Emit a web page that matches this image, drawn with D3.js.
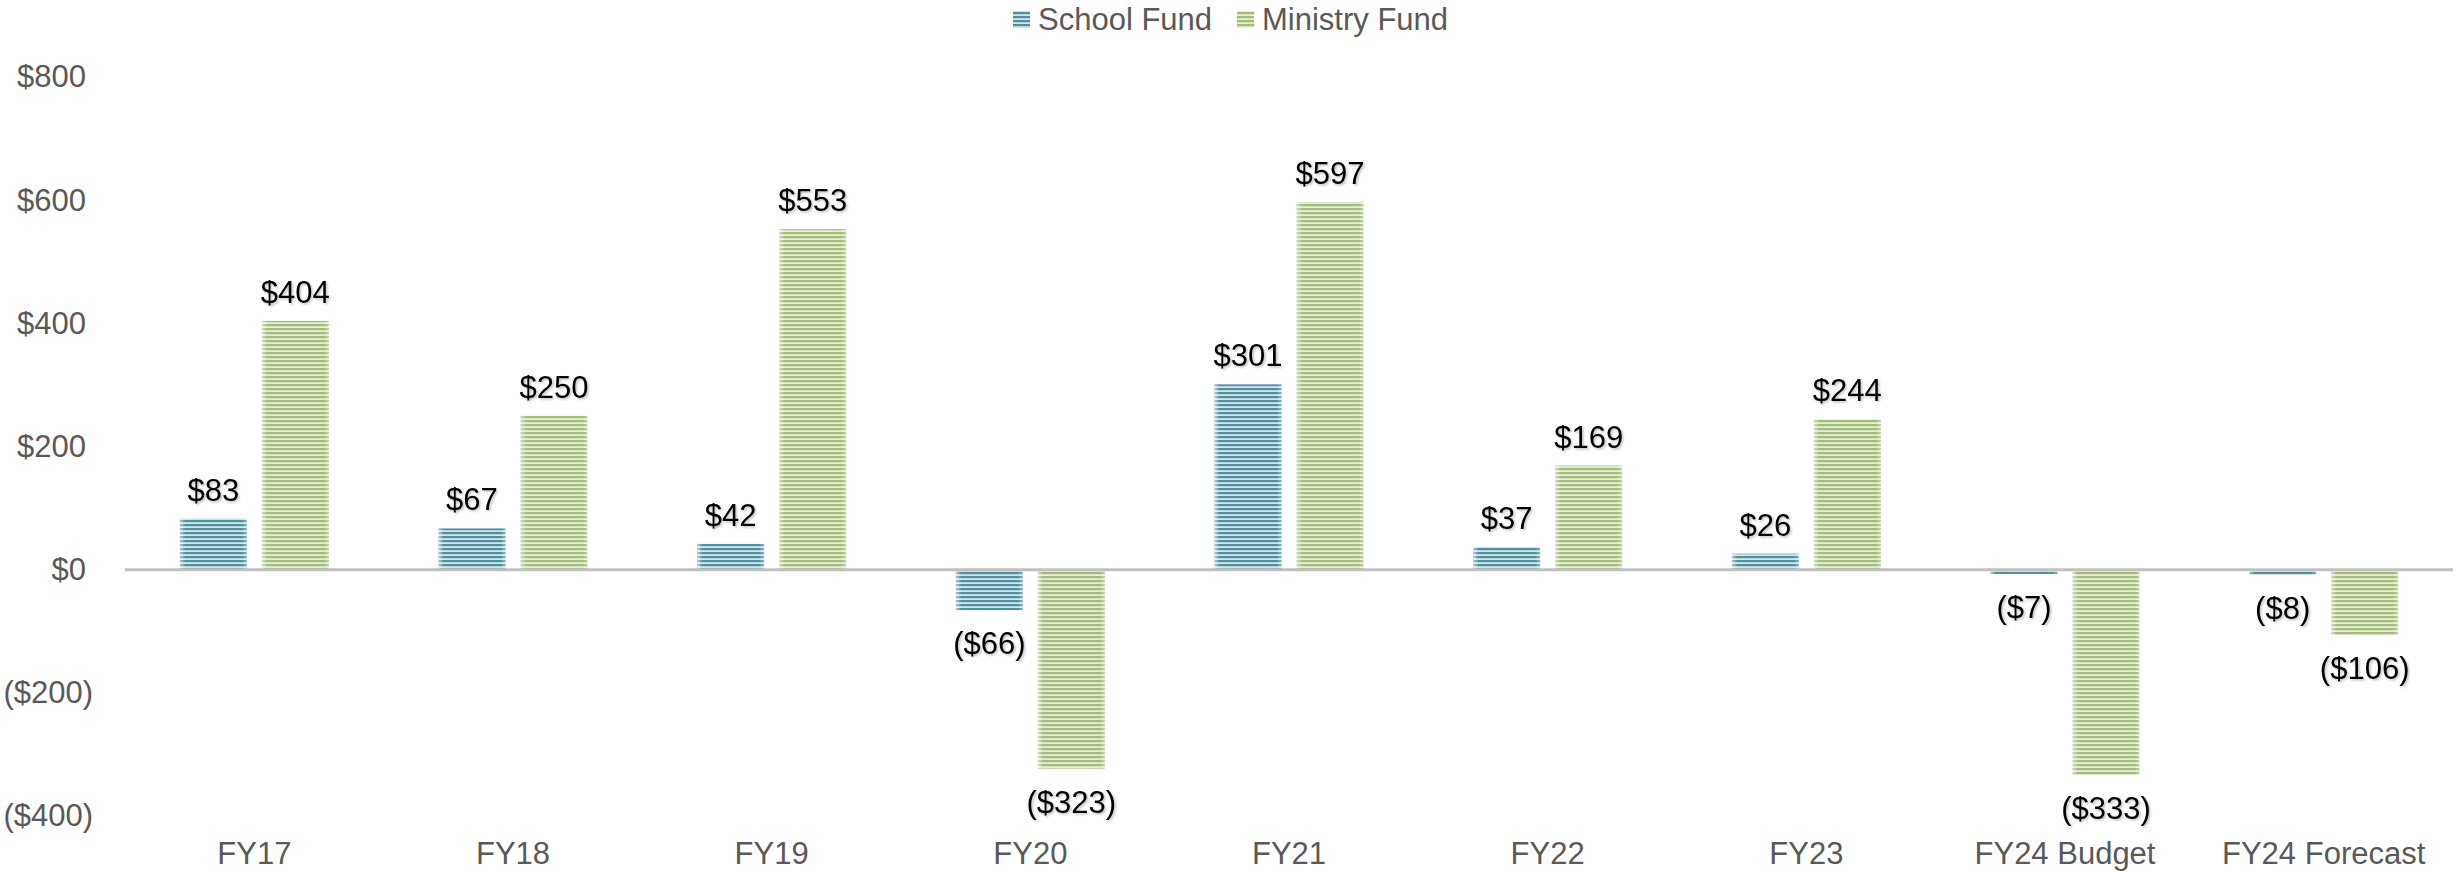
<!DOCTYPE html>
<html>
<head>
<meta charset="utf-8">
<script src="https://cdn.jsdelivr.net/npm/d3@7"></script>
<style>
  body { margin: 0; background: #fff; }
  svg { display: block; font-family: "Liberation Sans", Arial, sans-serif; }
</style>
</head>
<body>
<div id="chart-area"></div>
<script>
(() => {

  const categories = ['FY17', 'FY18', 'FY19', 'FY20', 'FY21', 'FY22', 'FY23', 'FY24 Budget', 'FY24 Forecast'];
  const seriesNames = ['School Fund', 'Ministry Fund'];
  const schoolFund = [83, 67, 42, -66, 301, 37, 26, -7, -8];
  const ministryFund = [404, 250, 553, -323, 597, 169, 244, -333, -106];
  const yTicks = [-400, -200, 0, 200, 400, 600, 800];

  const widthSvg = 2458;
  const heightSvg = 872;
  const plot = { left: 125, right: 2453, top: 77, bottom: 816 };
  const colors = {
    'School Fund': { dark: '#4f929e', light: '#d3e5e9', id: 'stripe-school' },
    'Ministry Fund': { dark: '#a3bb78', light: '#e6eed7', id: 'stripe-ministry' }
  };

  const fmt = d => d < 0 ? `($${-d})` : `$${d}`;

  const rows = categories.map((c, i) => ({
    category: c,
    values: [
      { series: 'School Fund', value: schoolFund[i] },
      { series: 'Ministry Fund', value: ministryFund[i] }
    ]
  }));

  const scaleX = d3.scaleBand()
    .domain(categories)
    .range([plot.left, plot.right])
    .padding(0);

  const groupWidth = 149;
  const groupOffset = (scaleX.bandwidth() - groupWidth) / 2;

  const scaleX1 = d3.scaleBand()
    .domain(seriesNames)
    .range([groupOffset, groupOffset + groupWidth])
    .paddingInner(0.183)
    .paddingOuter(0);

  const scaleY = d3.scaleLinear()
    .domain([-400, 800])
    .range([plot.bottom, plot.top]);

  const svg = d3.select('#chart-area')
    .append('svg')
      .attr('width', widthSvg)
      .attr('height', heightSvg);

  const defs = svg.append('defs');

  seriesNames.forEach(s => {
    const p = defs.append('pattern')
      .attr('id', colors[s].id)
      .attr('patternUnits', 'userSpaceOnUse')
      .attr('width', 8)
      .attr('height', 4);
    p.append('rect')
      .attr('width', 8)
      .attr('height', 4)
      .attr('fill', colors[s].light);
    p.append('rect')
      .attr('width', 8)
      .attr('height', 2.2)
      .attr('fill', colors[s].dark);
  });

  // soft lighter edges on the bars
  const edge = defs.append('linearGradient')
    .attr('id', 'bar-edge')
    .attr('x1', 0).attr('x2', 1).attr('y1', 0).attr('y2', 0);
  [[0, 0.55], [0.08, 0], [0.93, 0], [1, 0.35]].forEach(([o, a]) => {
    edge.append('stop')
      .attr('offset', o)
      .attr('stop-color', '#fff')
      .attr('stop-opacity', a);
  });

  const shadow = defs.append('filter')
    .attr('id', 'label-shadow')
    .attr('x', '-10%').attr('y', '-10%')
    .attr('width', '130%').attr('height', '140%');
  shadow.append('feDropShadow')
    .attr('dx', 1.5)
    .attr('dy', 1.5)
    .attr('stdDeviation', 1)
    .attr('flood-color', '#000')
    .attr('flood-opacity', 0.25);

  // y axis labels
  const axisY = d3.axisLeft(scaleY)
    .tickValues(yTicks)
    .tickSize(0)
    .tickPadding(0)
    .tickFormat(fmt);

  const groupAxisY = svg.append('g')
    .attr('transform', 'translate(93, 0)')
    .call(axisY);

  groupAxisY.select('.domain').remove();
  groupAxisY.selectAll('text')
    .attr('font-size', '31px')
    .attr('font-family', '"Liberation Sans", Arial, sans-serif')
    .attr('fill', '#595959')
    .attr('x', d => d < 0 ? 0 : -7);

  // bars
  const groups = svg.append('g')
    .selectAll('g')
    .data(rows)
    .enter()
    .append('g')
      .attr('transform', d => `translate(${scaleX(d.category)}, 0)`);

  const bars = groups.selectAll('g.bar')
    .data(d => d.values)
    .enter()
    .append('g')
      .attr('class', 'bar');

  bars.append('rect')
    .attr('x', d => scaleX1(d.series))
    .attr('y', d => scaleY(Math.max(0, d.value)))
    .attr('width', scaleX1.bandwidth())
    .attr('height', d => Math.abs(scaleY(d.value) - scaleY(0)))
    .attr('fill', d => `url(#${colors[d.series].id})`);

  bars.append('rect')
    .attr('x', d => scaleX1(d.series))
    .attr('y', d => scaleY(Math.max(0, d.value)))
    .attr('width', scaleX1.bandwidth())
    .attr('height', d => Math.abs(scaleY(d.value) - scaleY(0)))
    .attr('fill', 'url(#bar-edge)');

  bars.append('text')
    .attr('x', d => scaleX1(d.series) + scaleX1.bandwidth() / 2)
    .attr('y', d => d.value >= 0 ? scaleY(d.value) - 18 : scaleY(d.value) + 44)
    .attr('text-anchor', 'middle')
    .attr('font-size', '31px')
    .attr('fill', '#000')
    .attr('filter', 'url(#label-shadow)')
    .text(d => fmt(d.value));

  // zero line
  svg.append('line')
    .attr('x1', plot.left)
    .attr('x2', plot.right)
    .attr('y1', scaleY(0))
    .attr('y2', scaleY(0))
    .attr('stroke', '#c0c0c0')
    .attr('stroke-width', 3);

  // category labels
  const axisX = d3.axisBottom(scaleX)
    .tickSize(0)
    .tickPadding(0);

  const groupAxisX = svg.append('g')
    .attr('transform', 'translate(0, 842)')
    .call(axisX);

  groupAxisX.select('.domain').remove();
  groupAxisX.selectAll('text')
    .attr('font-size', '31px')
    .attr('font-family', '"Liberation Sans", Arial, sans-serif')
    .attr('fill', '#595959');

  // legend
  const legendX = [1013, 1237];
  const legend = svg.append('g');

  seriesNames.forEach((s, i) => {
    const row = legend.append('g')
      .attr('transform', `translate(${legendX[i]}, 0)`);

    row.append('rect')
      .attr('y', 11)
      .attr('width', 17)
      .attr('height', 17)
      .attr('fill', `url(#${colors[s].id})`);

    row.append('text')
      .attr('x', 25)
      .attr('y', 30)
      .attr('font-size', '31px')
      .attr('fill', '#595959')
      .text(s);
  });

})();
</script>
</body>
</html>
